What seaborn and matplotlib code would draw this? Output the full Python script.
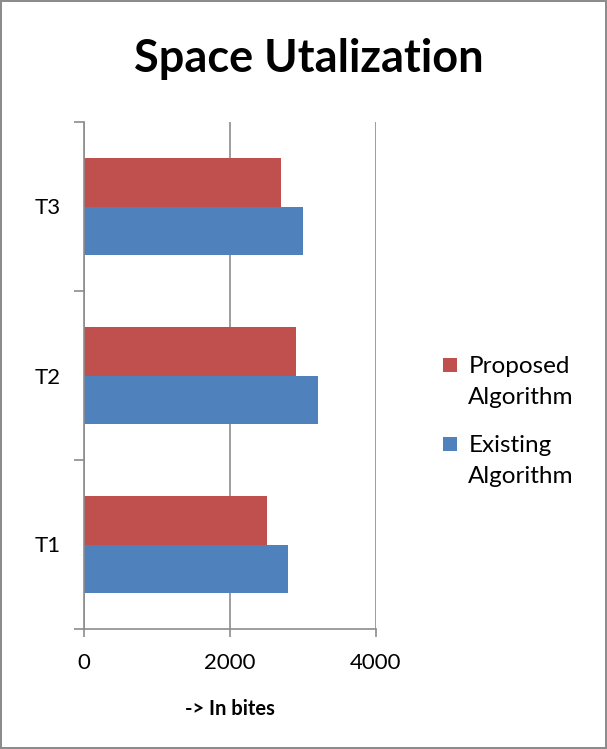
import pandas as pd
import seaborn as sns
import matplotlib.pyplot as plt
from matplotlib.patches import Rectangle
from matplotlib.legend_handler import HandlerPatch

# data
tasks = ['T1', 'T2', 'T3']
proposed = [2500, 2900, 2700]
existing = [2800, 3200, 3000]
series = ['Proposed Algorithm', 'Existing Algorithm']
xticks = [0, 2000, 4000]

df = pd.DataFrame({
    'Task': tasks * 2,
    'Bytes': proposed + existing,
    'Algorithm': [series[0]] * 3 + [series[1]] * 3,
})

sns.set_style('white')
plt.rcParams['font.family'] = ['Lato', 'DejaVu Sans']
plt.rcParams['text.color'] = 'black'
plt.rcParams['xtick.color'] = 'black'
plt.rcParams['ytick.color'] = 'black'
plt.rcParams['axes.labelcolor'] = 'black'

fig = plt.figure(figsize=(6.07, 7.49), dpi=100)
fig.patch.set_edgecolor('#8c8c8c')
fig.patch.set_linewidth(1.5)
ax = fig.add_axes([84 / 607, 120 / 749, 292 / 607, 507 / 749])

sns.barplot(data=df, x='Bytes', y='Task', hue='Algorithm', orient='h',
            order=['T3', 'T2', 'T1'], hue_order=series,
            palette=['#C0504D', '#4F81BD'], saturation=1, width=0.575, gap=0,
            edgecolor='none', linewidth=0, ax=ax)

ax.set_xlim(0, 4000)
ax.set_ylim(2.5, -0.5)
ax.set_xticks(xticks)
ax.set_xticklabels([str(v) for v in xticks], fontsize=16)
ax.tick_params(axis='x', direction='out', length=6, width=1.2, color='#8c8c8c', pad=11, bottom=True)

# category boundary ticks, labels at centres
ax.set_yticks([-0.5, 0.5, 1.5, 2.5])
ax.set_yticklabels([])
ax.set_yticks([0, 1, 2], minor=True)
ax.set_yticklabels(['T3', 'T2', 'T1'], minor=True, fontsize=16)
ax.tick_params(axis='y', which='major', direction='out', length=7, width=1.2, color='#8c8c8c', left=True)
ax.tick_params(axis='y', which='minor', length=0, pad=17)

ax.xaxis.grid(True, color='#8c8c8c', linewidth=1.2)
ax.set_axisbelow(True)
for s in ['top', 'right']:
    ax.spines[s].set_visible(False)
for s in ['left', 'bottom']:
    ax.spines[s].set_color('#8c8c8c')
    ax.spines[s].set_linewidth(1.2)

ax.set_xlabel('-> In bites', fontsize=14.5, fontweight='bold', labelpad=19)
ax.set_ylabel('')

fig.text(309 / 607, 1 - 59 / 749, 'Space Utalization', fontsize=32.5, fontweight='bold',
         ha='center', va='center')


# legend square sits next to the first line of the label
def top_square(legend, orig_handle, xdescent, ydescent, width, height, fontsize):
    size = width
    return Rectangle((-xdescent, -ydescent + height - size + 0.17 * fontsize), size, size)


handles, labels = ax.get_legend_handles_labels()
ax.get_legend().remove()
leg = fig.legend(handles, ['Proposed\nAlgorithm', 'Existing\nAlgorithm'],
                 loc='upper left', bbox_to_anchor=(421 / 607, 1 - 334 / 749),
                 frameon=False, fontsize=17.5, handlelength=0.6, handleheight=2.3,
                 handletextpad=0.45, labelspacing=1.1,
                 handler_map={h: HandlerPatch(patch_func=top_square) for h in handles})
for t in leg.get_texts():
    t.set_linespacing(1.6)

fig.savefig('out.png', dpi=100)
